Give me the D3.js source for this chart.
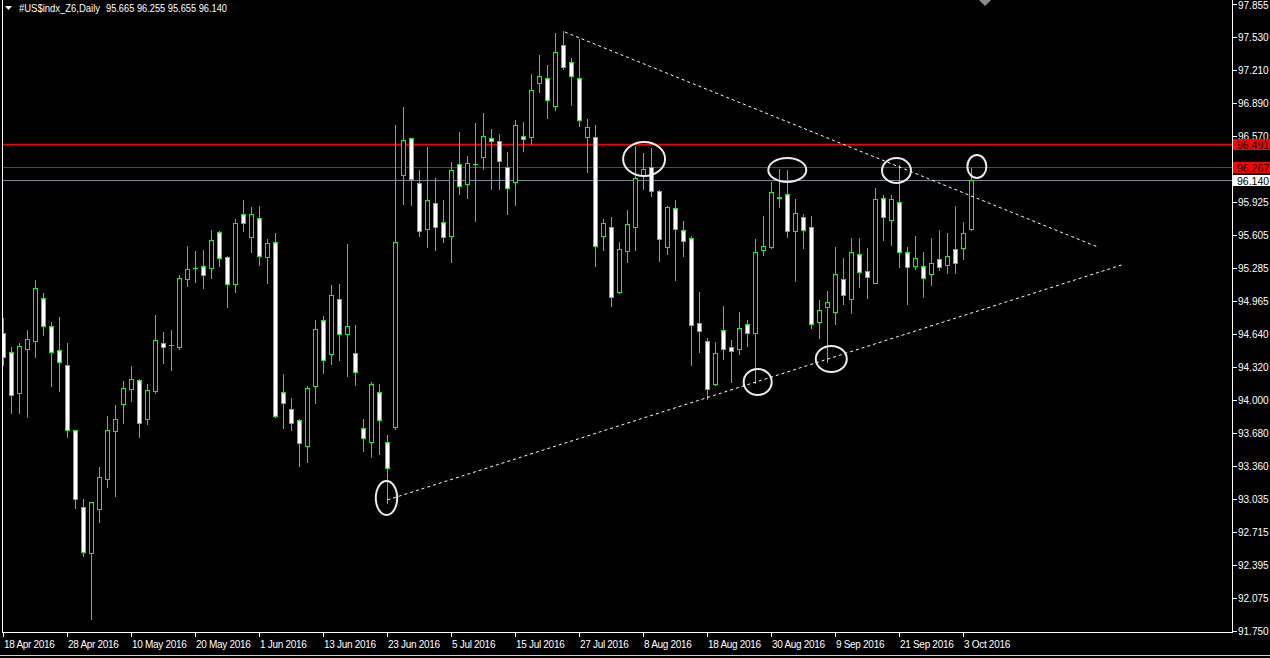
<!DOCTYPE html>
<html>
<head>
<meta charset="utf-8">
<script src="https://cdn.jsdelivr.net/npm/d3@7"></script>
<style>
html,body{margin:0;padding:0;background:#000;overflow:hidden;}
svg{display:block;}
text{font-family:Tahoma,"Liberation Sans",Arial,sans-serif;}
</style>
</head>
<body>
<script>
// ---------------- data ----------------
const symbol = "#US$indx_Z6,Daily";
const lastQuote = ["95.665", "96.255", "95.655", "96.140"];

const open = [
94.649,94.470,94.070,94.493,94.577,94.990,94.720,94.483,94.337,93.704,
92.954,92.507,92.935,93.227,93.694,93.957,94.103,94.191,93.811,94.090,
94.551,94.532,94.512,95.175,95.282,95.301,95.282,95.632,95.389,95.126,
95.807,95.584,95.769,95.389,95.535,94.074,93.909,93.805,93.554,94.139,
94.775,94.444,94.980,94.645,94.454,93.724,93.593,94.074,93.587,93.739,
96.193,96.547,96.109,95.667,95.915,95.730,95.599,96.294,96.105,96.294,
96.362,96.547,96.524,96.271,96.119,96.567,96.557,97.083,97.132,96.859,
97.453,97.287,97.132,96.563,96.557,95.599,95.681,95.048,95.453,95.681,
96.193,96.271,96.031,95.486,95.866,95.652,95.574,94.746,94.571,94.155,
94.678,94.512,94.499,94.736,94.649,95.457,95.492,95.979,96.002,95.645,
95.784,95.687,94.756,94.902,94.853,95.175,94.980,95.424,95.252,95.141,
95.963,95.749,95.930,95.443,95.304,95.301,95.223,95.369,95.314,95.467,
95.476,95.665];
const high = [
94.798,94.518,94.551,94.681,95.168,95.038,94.762,94.810,94.551,93.707,
93.032,93.006,93.350,93.843,93.951,94.187,94.330,94.201,94.155,94.827,
94.658,94.681,95.216,95.499,95.450,95.460,95.655,95.645,95.401,95.759,
95.947,95.876,95.888,95.564,95.622,94.252,94.016,93.814,94.136,94.778,
94.817,95.116,95.129,95.518,94.730,93.814,94.177,94.155,93.659,96.677,
96.849,96.550,96.239,96.463,96.161,95.947,96.317,96.609,96.375,96.696,
96.794,96.638,96.589,96.414,96.726,96.706,97.174,97.359,97.261,97.573,
97.592,97.326,97.514,96.735,96.677,95.762,95.778,95.535,95.846,96.475,
96.401,96.450,96.044,95.888,95.947,95.742,95.599,95.048,94.600,94.561,
94.915,94.584,94.856,94.778,95.564,95.791,96.119,96.249,96.239,95.953,
95.807,95.791,94.973,95.061,95.492,95.379,95.574,95.580,95.476,96.061,
95.995,95.992,96.287,95.492,95.596,95.443,95.574,95.655,95.622,95.888,
95.730,96.255];
const low = [
94.340,93.870,93.876,93.831,94.421,94.632,94.139,94.090,93.642,92.951,
92.483,91.867,92.814,93.149,93.064,93.778,93.992,93.636,93.763,94.070,
94.362,94.291,94.493,95.109,95.151,95.093,95.190,95.307,94.908,95.054,
95.648,95.443,95.314,95.136,93.831,93.724,93.707,93.360,93.399,93.973,
94.265,94.350,94.389,94.236,94.145,93.506,93.447,93.471,92.999,93.714,
95.908,95.898,95.596,95.492,95.460,95.541,95.343,96.005,95.969,95.742,
96.251,96.057,96.057,95.813,95.901,96.427,96.492,97.001,96.748,96.823,
97.222,96.872,96.667,96.222,95.307,95.460,94.917,95.038,95.346,95.460,
96.057,95.989,95.356,95.421,95.168,95.404,94.340,94.464,94.006,94.142,
94.396,94.177,94.450,94.528,94.162,95.411,95.482,95.881,95.589,95.158,
95.482,94.697,94.606,94.366,94.736,94.931,94.843,95.102,94.995,95.141,
95.557,95.509,95.297,94.937,95.272,95.005,95.119,95.265,95.239,95.239,
95.372,95.655];
const close = [
94.421,94.048,94.525,94.590,95.087,94.723,94.464,94.372,93.707,93.032,
92.516,93.003,93.247,93.707,93.811,94.113,94.201,93.772,94.094,94.581,
94.512,94.532,95.184,95.272,95.282,95.213,95.554,95.379,95.126,95.720,
95.720,95.807,95.398,95.525,93.846,93.967,93.772,93.578,94.113,94.688,
94.386,95.019,94.645,94.720,94.269,93.626,94.152,93.802,93.334,95.535,
96.528,96.154,95.648,95.944,95.681,95.589,96.236,96.086,96.304,96.294,
96.567,96.518,96.323,96.061,96.674,96.538,97.015,97.151,96.917,97.385,
97.239,97.151,96.723,96.654,95.502,95.720,94.999,95.467,95.710,96.158,
96.246,96.034,95.564,95.876,95.661,95.545,94.727,94.674,94.103,94.454,
94.493,94.476,94.697,94.649,95.437,95.496,96.022,95.963,95.645,95.817,
95.655,94.739,94.873,94.956,95.223,95.022,95.443,95.246,95.194,95.953,
95.778,95.953,95.437,95.291,95.379,95.184,95.330,95.291,95.404,95.330,
95.622,96.140];

const priceTicks = ["97.855","97.530","97.210","96.890","96.570","96.250","95.925","95.605",
  "95.285","94.965","94.640","94.320","94.000","93.680","93.360","93.035","92.715","92.395","92.075","91.750"];
const dateTickBars = [0,8,16,24,32,40,48,56,64,72,80,88,96,104,112,120];
const dateTickLabels = ["18 Apr 2016","28 Apr 2016","10 May 2016","20 May 2016","1 Jun 2016",
  "13 Jun 2016","23 Jun 2016","5 Jul 2016","15 Jul 2016","27 Jul 2016","8 Aug 2016",
  "18 Aug 2016","30 Aug 2016","9 Sep 2016","21 Sep 2016","3 Oct 2016"];

// horizontal price levels
const levelPrices = [96.491, 96.267, 96.140];
const levelLabels = ["96.491", "96.267", "96.140"];
// trend lines: [barIndex, price] pairs
const upperTrend = [[70.2, 97.582], [136.8, 95.489]];
const lowerTrend = [[48.0, 93.026], [139.8, 95.314]];
// circled points: bar index and price of centre
const markBars   = [80.1, 98.0, 111.65, 121.7, 94.3, 103.5, 47.9];
const markPrices = [96.346, 96.239, 96.234, 96.273, 94.174, 94.398, 93.045];

// ---------------- layout ----------------
const W = 1270, H = 658;
const plotL = 2, plotR = 1232, plotB = 632;
const markRx = [21, 19, 14.5, 9.5, 14, 15.5, 10.7];
const markRy = [17, 12, 12.5, 11.5, 13, 13, 17];

const svg = d3.select("body").append("svg").attr("width", W).attr("height", H);
svg.append("rect").attr("width", W).attr("height", H).attr("fill", "#000");

const x = d3.scaleLinear().domain([0, 153.59]).range([3.3, 1232]);
const y = d3.scaleLinear().domain([91.75, 97.855]).range([631, 4]);

svg.append("defs").append("clipPath").attr("id", "plot")
  .append("rect").attr("x", plotL + 1).attr("y", 0).attr("width", plotR - plotL - 1).attr("height", plotB);

const g = svg.append("g").attr("clip-path", "url(#plot)");

const idx = d3.range(open.length);
const px = i => Math.round(x(i));
const py = v => Math.round(y(v));

// horizontal level lines
g.append("line").attr("x1", plotL).attr("x2", plotR).attr("y1", py(levelPrices[0]) + 0.5).attr("y2", py(levelPrices[0]) + 0.5)
  .attr("stroke", "#ff0000").attr("stroke-width", 1.6);
g.append("line").attr("x1", plotL).attr("x2", plotR).attr("y1", py(levelPrices[1]) + 0.5).attr("y2", py(levelPrices[1]) + 0.5)
  .attr("stroke", "#ff0000").attr("stroke-width", 1);
g.append("line").attr("x1", plotL).attr("x2", plotR).attr("y1", py(levelPrices[2]) + 0.5).attr("y2", py(levelPrices[2]) + 0.5)
  .attr("stroke", "#778899").attr("stroke-width", 1);

// wicks
g.append("g").selectAll("line").data(idx).join("line")
  .attr("x1", i => px(i) + 0.5).attr("x2", i => px(i) + 0.5)
  .attr("y1", i => py(high[i])).attr("y2", i => py(low[i]) + 1)
  .attr("stroke", "#00ff00").attr("stroke-width", 1);

// bodies
const bodies = g.append("g");
idx.forEach(i => {
  const yo = py(open[i]), yc = py(close[i]);
  const top = Math.min(yo, yc), bot = Math.max(yo, yc);
  if (bot - top < 1) {
    bodies.append("line").attr("x1", px(i) - 2).attr("x2", px(i) + 3)
      .attr("y1", top + 0.5).attr("y2", top + 0.5).attr("stroke", "#00ff00").attr("stroke-width", 1);
  } else {
    bodies.append("rect").attr("x", px(i) - 2 + 0.5).attr("y", top + 0.5)
      .attr("width", 4).attr("height", bot - top)
      .attr("fill", close[i] >= open[i] ? "#000" : "#fff")
      .attr("stroke", "#00ff00").attr("stroke-width", 1);
  }
});

// trend lines
const tl = d3.line().x(d => x(d[0])).y(d => y(d[1]));
[upperTrend, lowerTrend].forEach(t => {
  g.append("path").attr("d", tl(t)).attr("fill", "none").attr("stroke", "#fff")
    .attr("stroke-width", 1).attr("stroke-dasharray", "3,3");
});

// ellipses
g.append("g").selectAll("ellipse").data(markBars).join("ellipse")
  .attr("cx", (d, i) => x(d)).attr("cy", (d, i) => y(markPrices[i]))
  .attr("rx", (d, i) => markRx[i]).attr("ry", (d, i) => markRy[i])
  .attr("fill", "none").attr("stroke", "#ececec").attr("stroke-width", 2);

// frame
svg.append("line").attr("x1", plotL + 0.5).attr("x2", plotL + 0.5).attr("y1", 0).attr("y2", plotB + 0.5)
  .attr("stroke", "#fff");
svg.append("line").attr("x1", plotR + 0.5).attr("x2", plotR + 0.5).attr("y1", 0).attr("y2", plotB + 0.5)
  .attr("stroke", "#fff");
svg.append("line").attr("x1", plotL).attr("x2", plotR + 1).attr("y1", plotB + 0.5).attr("y2", plotB + 0.5)
  .attr("stroke", "#fff");
svg.append("line").attr("x1", 0).attr("x2", W).attr("y1", 655.5).attr("y2", 655.5)
  .attr("stroke", "#d0d0d0");

// price axis
const pa = svg.append("g");
priceTicks.forEach(t => {
  const yy = py(+t);
  pa.append("line").attr("x1", plotR + 1).attr("x2", plotR + 5).attr("y1", yy + 0.5).attr("y2", yy + 0.5).attr("stroke", "#fff");
  pa.append("text").attr("x", 1238).attr("y", Math.max(yy + 4, 9)).attr("fill", "#fff")
    .attr("font-size", "10px").text(t);
});

// level labels
const lvColors = ["#ff0000", "#ff0000", "#ffffff"];
levelPrices.forEach((p, i) => {
  const yy = py(p);
  pa.append("rect").attr("x", plotR + 1).attr("y", yy - 5).attr("width", W - plotR - 1).attr("height", 11)
    .attr("fill", lvColors[i]);
  pa.append("text").attr("x", 1237).attr("y", yy + 4.5).attr("fill", "#000")
    .attr("font-size", "10.5px").text(levelLabels[i]);
});

// date axis
const da = svg.append("g");
dateTickBars.forEach((b, i) => {
  const xx = px(b);
  da.append("line").attr("x1", xx + 0.5).attr("x2", xx + 0.5).attr("y1", plotB).attr("y2", plotB + 5).attr("stroke", "#fff");
  da.append("text").attr("x", xx + 1).attr("y", 648).attr("fill", "#fff")
    .attr("font-size", "10px").attr("letter-spacing", "-0.3px").text(dateTickLabels[i]);
});

// title
svg.append("path").attr("d", "M5,6 L12,6 L8.5,10 Z").attr("fill", "#fff");
svg.append("text").attr("x", 19).attr("y", 12).attr("fill", "#fff").attr("font-size", "10.5px")
  .attr("textLength", 81).attr("lengthAdjust", "spacingAndGlyphs").text(symbol);
svg.append("text").attr("x", 106).attr("y", 12).attr("fill", "#fff").attr("font-size", "10.5px")
  .attr("textLength", 121).attr("lengthAdjust", "spacingAndGlyphs").text(lastQuote.join(" "));
// chart shift marker
svg.append("path").attr("d", "M979,0 L991,0 L985,6 Z").attr("fill", "#8c8c8c");
</script>
</body>
</html>
